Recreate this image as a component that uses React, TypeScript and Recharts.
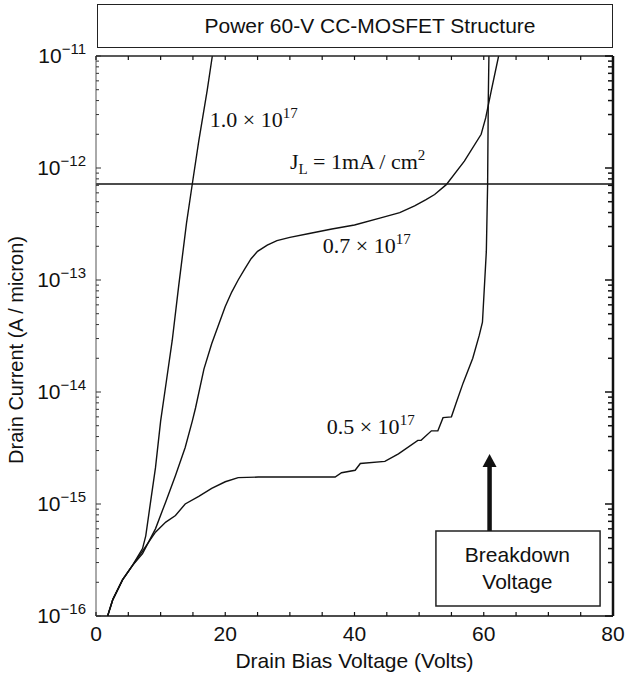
import {
  LineChart,
  Line,
  XAxis,
  YAxis,
  ReferenceLine,
  ReferenceArea,
  ReferenceDot,
} from "recharts";

// drain bias (V) and drain current (A/micron)
const volts10 = [1.8, 2.6, 4.1, 5.6, 7.2, 7.7, 8.5, 9.2, 10, 10.9, 11.8, 12.8, 14.0, 14.9, 15.9, 17.2, 18.0];
const amps10 = [1e-16, 1.4e-16, 2.1e-16, 2.8e-16, 4.0e-16, 5.2e-16, 1.1e-15, 2.1e-15, 5.5e-15, 1.26e-14, 2.9e-14, 8.9e-14, 3.2e-13, 7.2e-13, 1.74e-12, 4.9e-12, 1e-11];

const volts07 = [1.8, 2.6, 4.1, 5.6, 7.2, 9.2, 10.8, 12.3, 13.8, 14.9, 15.4, 16.7, 17.9, 20, 21, 22, 23, 24, 25, 26.5, 28, 30, 33, 36.5, 40, 44.2, 47, 49.3, 51, 52.4, 54.2, 57, 59.6, 60.3, 61.2, 62.3];
const amps07 = [1e-16, 1.4e-16, 2.1e-16, 2.8e-16, 3.6e-16, 6.0e-16, 1.05e-15, 1.8e-15, 3.2e-15, 5.5e-15, 7.2e-15, 1.6e-14, 2.7e-14, 5.8e-14, 7.8e-14, 1.0e-13, 1.25e-13, 1.55e-13, 1.8e-13, 2.05e-13, 2.25e-13, 2.4e-13, 2.6e-13, 2.85e-13, 3.1e-13, 3.6e-13, 4.0e-13, 4.6e-13, 5.2e-13, 5.8e-13, 7.1e-13, 1.15e-12, 2.0e-12, 2.8e-12, 5.0e-12, 1e-11];

const volts05 = [1.8, 2.6, 4.1, 5.6, 7.2, 9.2, 10.8, 12.3, 13.8, 15.9, 17.9, 20, 22, 25.1, 37, 38, 40.1, 40.9, 44.7, 46.8, 49.8, 50.3, 51.9, 52.9, 53.7, 55, 55.7, 56.8, 58.3, 59.3, 59.8, 60.4, 60.6, 60.7, 60.8];
const amps05 = [1e-16, 1.4e-16, 2.1e-16, 2.8e-16, 3.8e-16, 5.6e-16, 6.9e-16, 7.9e-16, 1.0e-15, 1.17e-15, 1.38e-15, 1.58e-15, 1.72e-15, 1.74e-15, 1.74e-15, 1.9e-15, 2.0e-15, 2.3e-15, 2.4e-15, 2.8e-15, 3.7e-15, 3.7e-15, 4.5e-15, 4.5e-15, 5.9e-15, 6.0e-15, 7.9e-15, 1.2e-14, 2.0e-14, 3.2e-14, 4.2e-14, 1.8e-13, 7.2e-13, 4.0e-12, 1e-11];

const xTicks = [0, 5, 10, 15, 20, 25, 30, 35, 40, 45, 50, 55, 60, 65, 70, 75, 80];
const xLabelTicks = [0, 20, 40, 60, 80];
const decades = [1e-16, 1e-15, 1e-14, 1e-13, 1e-12, 1e-11];
const decadeExps = ["−16", "−15", "−14", "−13", "−12", "−11"];
const mantissas = [2, 3, 4, 5, 6, 7, 8, 9];

const limitCurrent = 7.2e-13; // J_L = 1 mA/cm2
const breakdownVolts = 60.9;
const arrowFrom = 5.75e-16;
const arrowTo = 2.8e-15;
const boxX = [52.6, 78];
const boxY = [1.23e-16, 5.75e-16];

const yTicks = [
  ...decades,
  ...decades.slice(0, 5).flatMap((d) => mantissas.map((m) => m * d)),
].sort((a, b) => a - b);

const toRows = (xs: number[], ys: number[]) => xs.map((v, i) => ({ v, a: ys[i] }));

const sans = "'Liberation Sans', Arial, Helvetica, sans-serif";
const serif = "'Liberation Serif', 'Times New Roman', serif";

const decadeIndex = (v: number) => decades.findIndex((d) => Math.abs(v / d - 1) < 1e-6);

const LeftTick = (props: any) => {
  const { x, y, payload } = props;
  const idx = decadeIndex(payload.value);
  const major = idx >= 0;
  return (
    <g>
      <line x1={x} x2={x + (major ? 5 : 3)} y1={y} y2={y} stroke="#333" strokeWidth={1} />
      {major && (
        <text x={x - 10} y={y + 7} textAnchor="end" fontFamily={sans} fontSize={21} fill="#111">
          10
          <tspan dy={-9} fontSize={15}>
            {decadeExps[idx]}
          </tspan>
        </text>
      )}
    </g>
  );
};

const RightTick = (props: any) => {
  const { x, y, payload } = props;
  const major = decadeIndex(payload.value) >= 0;
  return <line x1={x} x2={x - (major ? 8 : 5)} y1={y} y2={y} stroke="#111" strokeWidth={1.5} />;
};

const BottomTick = (props: any) => {
  const { x, y, payload } = props;
  const labelled = xLabelTicks.includes(payload.value);
  return (
    <g>
      <line x1={x} x2={x} y1={y} y2={y - 4} stroke="#111" strokeWidth={1.2} />
      {labelled && (
        <text x={x} y={y + 25} textAnchor="middle" fontFamily={sans} fontSize={21} fill="#111">
          {payload.value}
        </text>
      )}
    </g>
  );
};

const TopTick = (props: any) => {
  const { x, y } = props;
  return <line x1={x} x2={x} y1={y} y2={y + 4} stroke="#111" strokeWidth={1.2} />;
};

const SciLabel = ({ cx, cy, mant }: any) => (
  <text x={cx} y={cy} fontFamily={serif} fontSize={22} fill="#111">
    {mant} × 10
    <tspan dy={-9} fontSize={15}>
      17
    </tspan>
  </text>
);

const JLabel = ({ cx, cy }: any) => (
  <text x={cx} y={cy} fontFamily={serif} fontSize={22} fill="#111">
    J
    <tspan dy={5} fontSize={15}>
      L
    </tspan>
    <tspan dy={-5}> = 1mA / cm</tspan>
    <tspan dy={-9} fontSize={15}>
      2
    </tspan>
  </text>
);

const BoxText = ({ cx, cy }: any) => (
  <g fontFamily={sans} fontSize={21} fill="#111">
    <text x={cx} y={cy - 6} textAnchor="middle">
      Breakdown
    </text>
    <text x={cx} y={cy + 21} textAnchor="middle">
      Voltage
    </text>
  </g>
);

const Arrow = (props: any) => {
  const { x1, y1, x2, y2 } = props;
  const top = Math.min(y1, y2);
  const bottom = Math.max(y1, y2);
  return (
    <g>
      <line x1={x1} x2={x2} y1={bottom} y2={top + 10} stroke="#111" strokeWidth={4.5} />
      <polygon points={`${x1 - 7},${top + 13} ${x1 + 7},${top + 13} ${x1},${top}`} fill="#111" />
    </g>
  );
};

export default function App() {
  return (
    <div
      style={{
        position: "absolute",
        left: 0,
        top: 0,
        width: 625,
        height: 673,
        background: "#fff",
      }}
    >
      <div
        style={{
          position: "absolute",
          left: 97,
          top: 4,
          width: 516,
          height: 44,
          border: "1.5px solid #222",
          display: "flex",
          alignItems: "center",
          justifyContent: "center",
          paddingLeft: 30,
          boxSizing: "border-box",
          fontFamily: sans,
          fontSize: 21,
          color: "#111",
        }}
      >
        Power 60-V CC-MOSFET Structure
      </div>
      <LineChart width={625} height={673} margin={{ top: 55, right: 0, bottom: 0, left: 0 }}>
        <XAxis
          dataKey="v"
          type="number"
          domain={[0, 80]}
          ticks={xTicks}
          interval={0}
          height={57}
          tickSize={0}
          tickMargin={0}
          tickLine={false}
          tick={<BottomTick />}
          stroke="#111"
          strokeWidth={1.5}
          label={({ viewBox }: any) => (
            <text
              x={viewBox.x + viewBox.width / 2}
              y={viewBox.y + 52}
              textAnchor="middle"
              fontFamily={sans}
              fontSize={21}
              fill="#111"
            >
              Drain Bias Voltage (Volts)
            </text>
          )}
        />
        <XAxis
          xAxisId="top"
          orientation="top"
          dataKey="v"
          type="number"
          domain={[0, 80]}
          ticks={xTicks}
          interval={0}
          height={1}
          tickSize={0}
          tickMargin={0}
          tickLine={false}
          tick={<TopTick />}
          stroke="#222"
          strokeWidth={1.5}
        />
        <YAxis
          type="number"
          scale="log"
          domain={[1e-16, 1e-11]}
          allowDataOverflow
          ticks={yTicks}
          interval={0}
          width={96}
          tickSize={0}
          tickMargin={0}
          tickLine={false}
          tick={<LeftTick />}
          stroke="#555"
          strokeWidth={1}
          label={() => (
            <text
              x={23}
              y={350}
              textAnchor="middle"
              transform="rotate(-90, 23, 350)"
              fontFamily={sans}
              fontSize={20}
              fill="#111"
            >
              Drain Current (A / micron)
            </text>
          )}
        />
        <YAxis
          yAxisId="r"
          orientation="right"
          type="number"
          scale="log"
          domain={[1e-16, 1e-11]}
          allowDataOverflow
          ticks={yTicks}
          interval={0}
          width={12}
          tickSize={0}
          tickMargin={0}
          tickLine={false}
          tick={<RightTick />}
          stroke="#111"
          strokeWidth={2.5}
        />
        <ReferenceLine y={limitCurrent} stroke="#111" strokeWidth={1.5} />
        <Line
          data={toRows(volts10, amps10)}
          dataKey="a"
          stroke="#111"
          strokeWidth={1.4}
          dot={false}
          isAnimationActive={false}
        />
        <Line
          data={toRows(volts07, amps07)}
          dataKey="a"
          stroke="#111"
          strokeWidth={1.4}
          dot={false}
          isAnimationActive={false}
        />
        {/* same ranges as the bottom/left axes, so the frame axes get their ticks */}
        <Line
          data={toRows(volts05, amps05)}
          dataKey="a"
          xAxisId="top"
          yAxisId="r"
          stroke="#111"
          strokeWidth={1.4}
          dot={false}
          isAnimationActive={false}
        />
        <ReferenceArea
          x1={boxX[0]}
          x2={boxX[1]}
          y1={boxY[0]}
          y2={boxY[1]}
          fill="#fff"
          fillOpacity={1}
          stroke="#222"
          strokeWidth={1.5}
        />
        <ReferenceDot x={65.2} y={2.66e-16} r={0} shape={(p: any) => <BoxText {...p} />} />
        <ReferenceLine
          segment={[
            { x: breakdownVolts, y: arrowFrom },
            { x: breakdownVolts, y: arrowTo },
          ]}
          shape={(p: any) => <Arrow {...p} />}
        />
        <ReferenceDot x={17.6} y={2.3e-12} r={0} shape={(p: any) => <SciLabel {...p} mant="1.0" />} />
        <ReferenceDot x={35.1} y={1.74e-13} r={0} shape={(p: any) => <SciLabel {...p} mant="0.7" />} />
        <ReferenceDot x={35.7} y={4.2e-15} r={0} shape={(p: any) => <SciLabel {...p} mant="0.5" />} />
        <ReferenceDot x={30} y={9.8e-13} r={0} shape={(p: any) => <JLabel {...p} />} />
      </LineChart>
    </div>
  );
}
